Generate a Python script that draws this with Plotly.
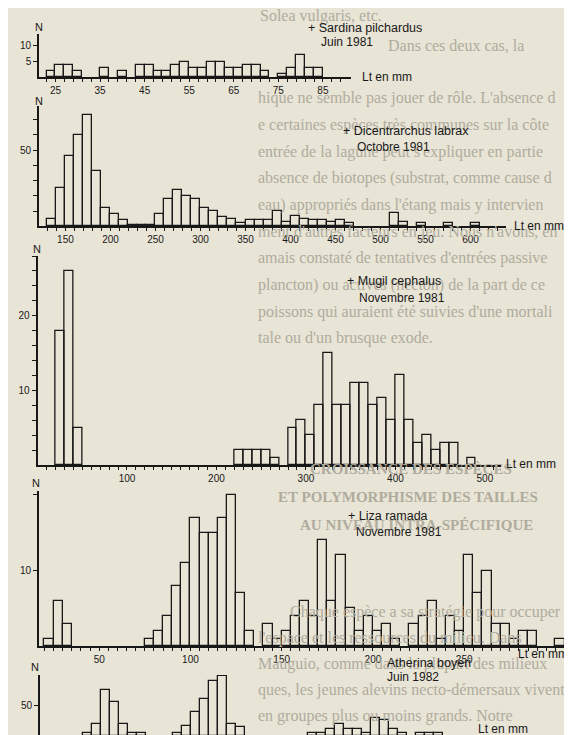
import plotly.graph_objects as go

W, H = 572, 735
BG = "#e8e4d6"
INK = "#181818"
GHOST = "#b0ac9d"
SANS = "Liberation Sans"
SERIF = "Liberation Serif"

# ---------------- data (bin lower edge in mm, counts N) ----------------
sard_bin = 2
sard_lt = list(range(23, 85, 2))
sard_n = [2, 4, 4, 2, 0, 0, 3, 0, 2, 0, 4, 4, 2, 2, 4, 5, 3, 3, 5, 5,
          3, 3, 4, 4, 2, 0, 1, 3, 7, 3, 3]

dic_bin = 10
dic_lt = list(range(130, 610, 10))
dic_n = [5, 25, 46, 60, 73, 36, 12, 8, 4, 1, 1, 1, 8, 18, 24, 20, 18, 12, 10, 6,
         5, 2, 4, 4, 4, 10, 3, 7, 5, 4, 4, 3, 4, 2, 0, 0, 0, 0, 9, 3,
         0, 2, 0, 0, 2, 0, 0, 2]

mug_bin = 10
mug_lt = [20, 30, 40, 220, 230, 240, 250, 260, 280, 290, 300, 310, 320, 330, 340,
          350, 360, 370, 380, 390, 400, 410, 420, 430, 440, 450, 460, 480]
mug_n = [18, 26, 5, 2, 2, 2, 2, 1, 5, 6, 4, 8, 15, 8, 8,
         11, 11, 8, 9, 6, 12, 6, 3, 4, 2, 3, 3, 1]

liza_bin = 5
liza_lt = [20, 25, 30, 75, 80, 85, 90, 95, 100, 105, 110, 115, 120, 125, 130,
           140, 145, 150, 155, 160, 165, 170, 175, 180, 185, 190, 195, 200, 205, 210,
           220, 225, 230, 235, 240, 245, 250, 255, 260, 265, 270, 275, 280, 285, 300]
liza_n = [1, 6, 3, 1, 2, 4, 8, 11, 17, 15, 15, 17, 20, 7, 2,
          3, 1, 2, 4, 6, 4, 14, 6, 12, 5, 2, 4, 2, 3, 1,
          3, 4, 6, 1, 4, 2, 12, 7, 10, 3, 3, 1, 2, 2, 1]

ath_bin = 2
ath_lt = [20, 22, 24, 26, 28, 30, 32, 40, 42, 44, 46, 48, 50, 52, 54,
          70, 72, 74, 76, 78, 80, 82, 84, 86, 88, 90, 94, 96, 98]
ath_n = [6, 20, 75, 55, 20, 6, 6, 6, 16, 40, 60, 90, 98, 20, 15,
         6, 6, 12, 20, 12, 12, 6, 30, 27, 12, 6, 6, 6, 6]

# ---------------- panel geometry (pixels) ----------------
panels = [
    dict(name="+ Sardina pilchardus", sub="Juin 1981", lt=sard_lt, n=sard_n, bw=sard_bin,
         px=(31, 343), xr=(21.3, 91.3), py=(69.3, 26), yr=(0, 13.8),
         xt=list(range(23, 91, 2)), xl=list(range(25, 86, 10)),
         yt=[5, 10], yl=[5, 10],
         N=(31, 19), lt_lab=(352, 69), t=(298, 20), s=(311, 34)),
    dict(name="+ Dicentrarchus labrax", sub="Octobre 1981", lt=dic_lt, n=dic_n, bw=dic_bin,
         px=(31, 498), xr=(120.6, 639.4), py=(218.3, 98), yr=(0, 79),
         xt=list(range(130, 640, 10)), xl=list(range(150, 601, 50)),
         yt=list(range(10, 80, 10)), yl=[50],
         N=(31, 93), lt_lab=(504, 218), t=(333, 123), s=(347, 139)),
    dict(name="+ Mugil cephalus", sub="Novembre 1981", lt=mug_lt, n=mug_n, bw=mug_bin,
         px=(29.5, 493), xr=(0, 518), py=(457, 248), yr=(0, 28),
         xt=list(range(10, 520, 10)), xl=list(range(100, 501, 100)),
         yt=list(range(2, 29, 2)), yl=[10, 20],
         N=(29, 241), lt_lab=(496, 456), t=(337, 273), s=(349, 290)),
    dict(name="+ Liza ramada", sub="Novembre 1981", lt=liza_lt, n=liza_n, bw=liza_bin,
         px=(31, 562), xr=(17, 308), py=(638.3, 483), yr=(0, 20.5),
         xt=list(range(20, 310, 5)), xl=list(range(50, 251, 50)),
         yt=[10, 20], yl=[10],
         N=(28, 475), lt_lab=(508, 646), t=(338, 508), s=(346, 524)),
    dict(name="Atherina boyeri", sub="Juin 1982", lt=ath_lt, n=ath_n, bw=ath_bin,
         px=(32, 456), xr=(10.5, 104.7), py=(728.3, 667), yr=(0, 99),
         xt=list(range(20, 101, 10)), xl=[],
         yt=[50], yl=[50],
         N=(27, 659), lt_lab=(468, 721), t=(377, 655), s=(377, 669)),
]

# faint text of the printed page showing behind the figure
ghost_lines = [
    (250, 8, "Solea vulgaris, etc."),
    (378, 37, "Dans ces deux cas, la"),
    (248, 90, "hique ne semble pas jouer de rôle. L'absence d"),
    (248, 117, "e certaines espèces très communes sur la côte"),
    (248, 144, "entrée de la lagune peut s'expliquer en partie"),
    (248, 170, "absence de biotopes (substrat, comme cause d"),
    (248, 197, "eau) appropriés dans l'étang mais y intervien"),
    (248, 224, "ment d'autres facteurs en jeu. Nous n'avons, en"),
    (248, 250, "amais constaté de tentatives d'entrées passive"),
    (248, 277, "plancton) ou actives (necton) de la part de ce"),
    (248, 304, "poissons qui auraient été suivies d'une mortali"),
    (248, 330, "tale ou d'un brusque exode."),
    (280, 604, "Chaque espèce a sa stratégie pour occuper"),
    (248, 630, "l'espace et les ressources du milieu. Dans"),
    (248, 656, "Mauguio, comme dans la plupart des milieux"),
    (248, 682, "ques, les jeunes alevins necto-démersaux vivent"),
    (248, 708, "en groupes plus ou moins grands. Notre"),
]
ghost_heads = [
    (300, 461, "CROISSANCE DES ESPÈCES"),
    (268, 489, "ET POLYMORPHISME DES TAILLES"),
    (290, 517, "AU NIVEAU INTRA-SPÉCIFIQUE"),
]


def fx(p):
    return p / W


def fy(p):
    return 1 - p / H


fig = go.Figure()
annotations = []

for x0, y0, txt in ghost_lines:
    annotations.append(dict(x=fx(x0), y=fy(y0), xref="paper", yref="paper", text=txt,
                            showarrow=False, xanchor="left", yanchor="middle",
                            font=dict(family=SERIF, size=16, color=GHOST)))
for x0, y0, txt in ghost_heads:
    annotations.append(dict(x=fx(x0), y=fy(y0), xref="paper", yref="paper",
                            text="<b>" + txt + "</b>",
                            showarrow=False, xanchor="left", yanchor="middle",
                            font=dict(family=SERIF, size=15, color=GHOST)))

layout_axes = {}
for i, p in enumerate(panels, start=1):
    xa = "x" if i == 1 else f"x{i}"
    ya = "y" if i == 1 else f"y{i}"
    centers = [v + p["bw"] / 2 for v, c in zip(p["lt"], p["n"]) if c > 0]
    counts = [c for c in p["n"] if c > 0]
    fig.add_trace(go.Bar(x=centers, y=counts, width=p["bw"], xaxis=xa, yaxis=ya,
                         marker=dict(color="rgba(0,0,0,0)", line=dict(color=INK, width=1.3)),
                         showlegend=False, hoverinfo="skip"))
    xt_text = [str(v) if v in p["xl"] else "" for v in p["xt"]]
    yt_text = [str(v) if v in p["yl"] else "" for v in p["yt"]]
    common = dict(showline=True, linecolor=INK, linewidth=1.6, ticks="outside",
                  tickcolor=INK, tickwidth=1.1, showgrid=False, zeroline=False,
                  tickfont=dict(family=SANS, size=10, color=INK), fixedrange=True)
    xkey = "xaxis" if i == 1 else f"xaxis{i}"
    ykey = "yaxis" if i == 1 else f"yaxis{i}"
    layout_axes[xkey] = dict(common, domain=[fx(p["px"][0]), fx(p["px"][1])],
                             range=list(p["xr"]), anchor=ya, tickmode="array",
                             tickvals=p["xt"], ticktext=xt_text, ticklen=3)
    layout_axes[ykey] = dict(common, domain=[fy(p["py"][0]), fy(p["py"][1])],
                             range=list(p["yr"]), anchor=xa, tickmode="array",
                             tickvals=p["yt"], ticktext=yt_text, ticklen=4)
    annotations.append(dict(x=fx(p["N"][0]), y=fy(p["N"][1]), xref="paper", yref="paper",
                            text="N", showarrow=False, xanchor="center", yanchor="middle",
                            font=dict(family=SANS, size=11, color=INK)))
    annotations.append(dict(x=fx(p["lt_lab"][0]), y=fy(p["lt_lab"][1]), xref="paper",
                            yref="paper", text="Lt en mm", showarrow=False,
                            xanchor="left", yanchor="middle",
                            font=dict(family=SANS, size=12, color=INK)))
    annotations.append(dict(x=fx(p["t"][0]), y=fy(p["t"][1]), xref="paper", yref="paper",
                            text=p["name"], showarrow=False, xanchor="left", yanchor="middle",
                            font=dict(family=SANS, size=12.5, color=INK)))
    annotations.append(dict(x=fx(p["s"][0]), y=fy(p["s"][1]), xref="paper", yref="paper",
                            text=p["sub"], showarrow=False, xanchor="left", yanchor="middle",
                            font=dict(family=SANS, size=12, color=INK)))

# Atherina axis: taller ticks every 10 mm, short ticks at every 2 mm bin edge
layout_axes["xaxis5"]["ticklen"] = 5
layout_axes["xaxis5"]["minor"] = dict(ticks="outside", ticklen=3, tickcolor=INK,
                                      tickwidth=1, tickmode="array",
                                      tickvals=list(range(12, 106, 2)))

fig.update_layout(width=W, height=H, margin=dict(l=0, r=0, t=0, b=0),
                  paper_bgcolor=BG, plot_bgcolor="rgba(0,0,0,0)",
                  annotations=annotations, bargap=0, **layout_axes)

fig.write_html("out.html")
